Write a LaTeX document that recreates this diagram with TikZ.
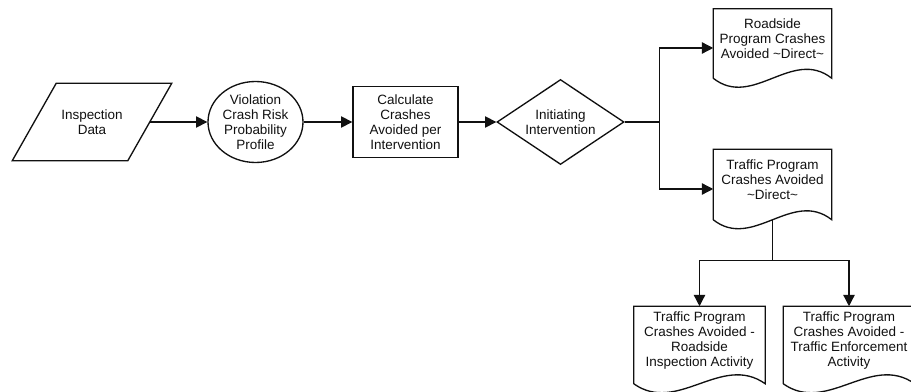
\documentclass[tikz,border=0pt]{standalone}
\usepackage{fontspec}
\setmainfont{Liberation Sans}
\usepackage{tikz}
\usetikzlibrary{arrows.meta,calc,shapes.geometric}
\definecolor{ink}{HTML}{111111}
\tikzset{
  >={Triangle[length=8.5pt,width=8.5pt]},
  every node/.style={font=\fontsize{10.1pt}{11.25pt}\selectfont,text=ink,align=center,inner sep=0pt},
  shapeline/.style={draw=ink,line width=1pt,fill=white},
  datain/.style={rectangle,draw=none,minimum width=86.25pt,minimum height=57.75pt},
  profile/.style={shapeline,ellipse,minimum width=71.25pt,minimum height=60.75pt},
  process/.style={shapeline,rectangle,minimum width=78.75pt,minimum height=53.25pt},
  decision/.style={shapeline,diamond,aspect=1.5,minimum width=95.25pt,minimum height=63.75pt},
  docnode/.style={rectangle,draw=none},
  docline/.style={draw=ink,line width=1pt},
  arrow/.style={->,line width=1pt,draw=ink}
}
% slanted outline of the data node
\newcommand{\dataoutline}[1]{%
  \draw[docline] ($(#1.north west)+(22,0)$) -- ($(#1.north east)+(22,0)$) -- ($(#1.south east)+(-22,0)$) -- ($(#1.south west)+(-22,0)$) -- cycle;}
% outline of a document node, wavy bottom edge
\newcommand{\docoutline}[1]{%
  \draw[docline] ($(#1.south west)+(0,4.5)$) -- ($(#1.north west)+(0,4.5)$) -- ($(#1.north east)+(0,4.5)$) -- ($(#1.south east)+(0,4.5)$)
    .. controls ($(#1.south east)!0.333!(#1.south west)+(0,-26.5)$) and ($(#1.south east)!0.667!(#1.south west)+(0,35.5)$) .. ($(#1.south west)+(0,4.5)$);}

\begin{document}
\begin{tikzpicture}[x=0.75pt,y=-0.75pt]
  \useasboundingbox (0,0) rectangle (911,392);
  \clip (0,0) rectangle (911,392);

  \node[datain] (insp) at (92,122) {Inspection\\Data};
  \dataoutline{insp}
  \node[profile] (vcrp) at (255.5,122) {Violation\\Crash Risk\\Probability\\Profile};
  \node[process] (calc) at (405.5,122) {Calculate\\Crashes\\Avoided per\\Intervention};
  \node[decision] (init) at (560.5,122) {Initiating\\Intervention};

  \node[docnode,minimum width=88.5pt,minimum height=51.75pt] (rsd) at (772.5,39) {Roadside\\Program Crashes\\Avoided \textasciitilde Direct\textasciitilde};
  \node[docnode,minimum width=88.5pt,minimum height=52.5pt] (tpd) at (772.5,180) {Traffic Program\\Crashes Avoided\\\textasciitilde Direct\textasciitilde};
  \node[docnode,minimum width=98.25pt,minimum height=57.75pt] (tri) at (699.5,340.5) {Traffic Program\\Crashes Avoided -\\Roadside\\Inspection Activity};
  \node[docnode,minimum width=98.25pt,minimum height=57.75pt] (tte) at (849,340.5) {Traffic Program\\Crashes Avoided -\\Traffic Enforcement\\Activity};
  \docoutline{rsd}
  \docoutline{tpd}
  \docoutline{tri}
  \docoutline{tte}

  \draw[arrow] (insp)--(vcrp);
  \draw[arrow] (vcrp)--(calc);
  \draw[arrow] (calc)--(init);
  \draw[arrow] (init.east) -- ++(35,0) |- ($(rsd.west)+(0,9)$);
  \draw[arrow] (init.east) -- ++(35,0) |- ($(tpd.west)+(0,9)$);
  \draw[arrow] ($(tpd.south)+(0,4.5)$) -- ++(0,40.5) -| ($(tri.north)+(0,4.5)$);
  \draw[arrow] ($(tpd.south)+(0,4.5)$) -- ++(0,40.5) -| ($(tte.north)+(0,4.5)$);
\end{tikzpicture}
\end{document}
